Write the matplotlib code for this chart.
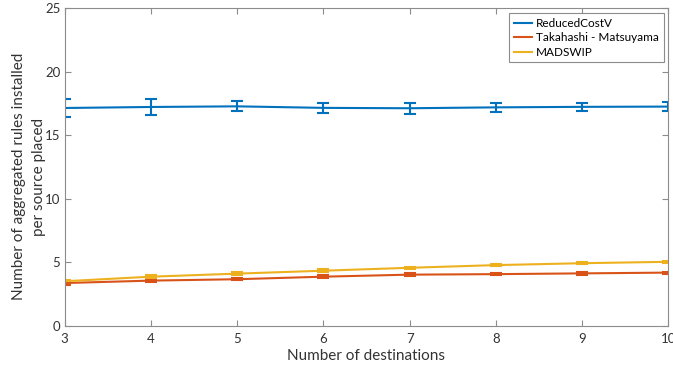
import matplotlib
matplotlib.use("Agg")
import matplotlib.pyplot as plt
from matplotlib.lines import Line2D

# --- Data ---
destinations = [3, 4, 5, 6, 7, 8, 9, 10]

reduced_cost_v     = [17.15, 17.23, 17.28, 17.16, 17.13, 17.20, 17.24, 17.26]
reduced_cost_v_err = [0.70, 0.60, 0.40, 0.38, 0.43, 0.37, 0.34, 0.34]

takahashi     = [3.38, 3.57, 3.68, 3.88, 4.04, 4.08, 4.14, 4.20]
takahashi_err = [0.12, 0.12, 0.10, 0.10, 0.10, 0.10, 0.10, 0.08]

madswip     = [3.52, 3.88, 4.12, 4.35, 4.58, 4.79, 4.94, 5.05]
madswip_err = [0.12, 0.12, 0.10, 0.10, 0.10, 0.10, 0.08, 0.08]

series_labels = ["ReducedCostV", "Takahashi - Matsuyama", "MADSWIP"]
colors        = ["#0072BD", "#D95319", "#EDB120"]

plt.rcParams["font.family"] = ["Lato", "DejaVu Sans"]

fig = plt.figure(figsize=(6.73, 3.73), dpi=100)
ax  = fig.add_axes([0.096, 0.126, 0.897, 0.852])

handles = []
for vals, errs, label, color in zip(
    [reduced_cost_v, takahashi, madswip],
    [reduced_cost_v_err, takahashi_err, madswip_err],
    series_labels, colors,
):
    ax.errorbar(destinations, vals, yerr=errs, color=color,
                linewidth=1.5, elinewidth=1.5, capsize=4.5, capthick=1.5)
    # legend shows plain line samples
    handles.append(Line2D([], [], color=color, linewidth=1.5, label=label))

ax.set_xlim(3, 10)
ax.set_ylim(0, 25)
ax.set_xticks(destinations)
ax.set_yticks([0, 5, 10, 15, 20, 25])

# MATLAB-like box with inward ticks on all sides
axis_gray = "#8c8c8c"
for side in ax.spines.values():
    side.set_color(axis_gray)
    side.set_linewidth(0.8)
ax.tick_params(direction="in", length=4, width=0.8, colors=axis_gray,
               labelcolor="#333333", labelsize=9.5,
               top=True, right=True)
ax.tick_params(axis="y", pad=3)
ax.tick_params(axis="x", pad=5)

ax.set_xlabel("Number of destinations", fontsize=11, color="#333333", labelpad=3)
ax.set_ylabel("Number of aggregated rules installed\nper source placed",
              fontsize=11, color="#333333", linespacing=1.55)
ax.yaxis.set_label_coords(-0.031, 0.47)

leg = ax.legend(handles=handles, loc="upper right", fontsize=8.5,
                handlelength=1.6, handletextpad=0.3, borderpad=0.4,
                labelspacing=0.3, fancybox=False, framealpha=1,
                borderaxespad=0.4)
leg.get_frame().set_edgecolor(axis_gray)
leg.get_frame().set_linewidth(0.8)

fig.savefig("out.png", dpi=100)
